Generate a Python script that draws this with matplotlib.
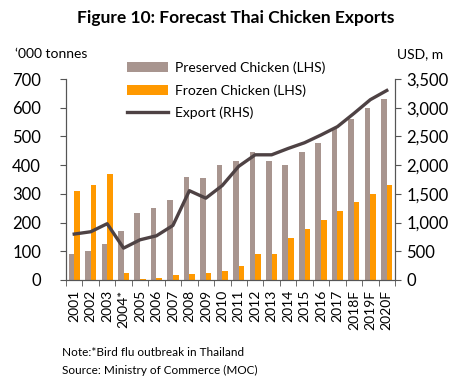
import matplotlib
matplotlib.use("Agg")
import matplotlib.pyplot as plt
import numpy as np

plt.rcParams["font.family"] = ["Lato", "DejaVu Sans"]

years = ["2001", "2002", "2003", "2004*", "2005", "2006", "2007", "2008", "2009", "2010",
         "2011", "2012", "2013", "2014", "2015", "2016", "2017", "2018F", "2019F", "2020F"]
preserved = [90, 102, 127, 172, 235, 250, 278, 358, 355, 400,
             413, 445, 415, 400, 445, 477, 530, 560, 600, 630]
frozen = [310, 330, 368, 25, 3, 7, 18, 22, 25, 33,
          50, 92, 92, 145, 177, 210, 240, 270, 298, 330]
export = [800, 840, 980, 555, 700, 770, 950, 1555, 1425, 1645,
          1980, 2180, 2180, 2290, 2390, 2525, 2670, 2900, 3140, 3300]

C_PRES = "#A8958F"
C_FROZ = "#FF9900"
C_LINE = "#4E4244"

fig = plt.figure(figsize=(4.72, 3.85), dpi=100)
ax = fig.add_axes([66 / 472, 1 - 280 / 385, (395 - 66) / 472, (280 - 79) / 385])
ax2 = ax.twinx()

x = np.arange(len(years))
w = 0.34
ax.bar(x - w / 2, preserved, w, color=C_PRES, label="Preserved Chicken (LHS)", zorder=2)
ax.bar(x + w / 2, frozen, w, color=C_FROZ, label="Frozen Chicken (LHS)", zorder=2)
ax2.plot(x, export, color=C_LINE, lw=2.4, label="Export (RHS)", zorder=3)

ax.set_xlim(-0.5, len(years) - 0.5)
ax.set_ylim(0, 700)
ax2.set_ylim(0, 3500)
ax.set_yticks(range(0, 701, 100))
ax2.set_yticks(range(0, 3501, 500))
ax2.set_yticklabels([f"{v:,}" for v in range(0, 3501, 500)])

ax.set_xticks(x)
ax.set_xticklabels(years, rotation=90, fontsize=10)
ax.set_xticks(np.arange(-0.5, len(years)), minor=True)
ax.tick_params(axis="x", which="major", length=0, pad=7)
ax.tick_params(axis="x", which="minor", length=4, color="#555555", direction="out")
ax.tick_params(axis="y", labelsize=12, length=4, color="#555555", pad=14)
ax2.tick_params(axis="y", labelsize=12, length=4, color="#555555", pad=4)

for a in (ax, ax2):
    a.spines["top"].set_visible(False)
    for s in ("left", "right", "bottom"):
        a.spines[s].set_color("#555555")
        a.spines[s].set_linewidth(0.8)

h1, l1 = ax.get_legend_handles_labels()
h2, l2 = ax2.get_legend_handles_labels()
ax.legend(h1 + h2, l1 + l2, loc="upper left", bbox_to_anchor=(0.17, 1.115), frameon=False,
          fontsize=10, handlelength=2.9, handletextpad=0.5, labelspacing=0.72, borderaxespad=0)

fig.text(0.5, 1 - 18 / 385, "Figure 10: Forecast Thai Chicken Exports", ha="center", va="center",
         fontsize=12.5, fontweight="bold")
fig.text(15 / 472, 1 - 54 / 385, "\u2018000 tonnes", ha="left", va="center", fontsize=10)
fig.text(397 / 472, 1 - 54 / 385, "USD, m", ha="left", va="center", fontsize=10)
fig.text(62 / 472, 1 - 353 / 385, "Note:*Bird flu outbreak in Thailand", ha="left", va="center", fontsize=8.5)
fig.text(62 / 472, 1 - 370 / 385, "Source: Ministry of Commerce (MOC)", ha="left", va="center", fontsize=8.5)

fig.savefig("out.png", dpi=100)
